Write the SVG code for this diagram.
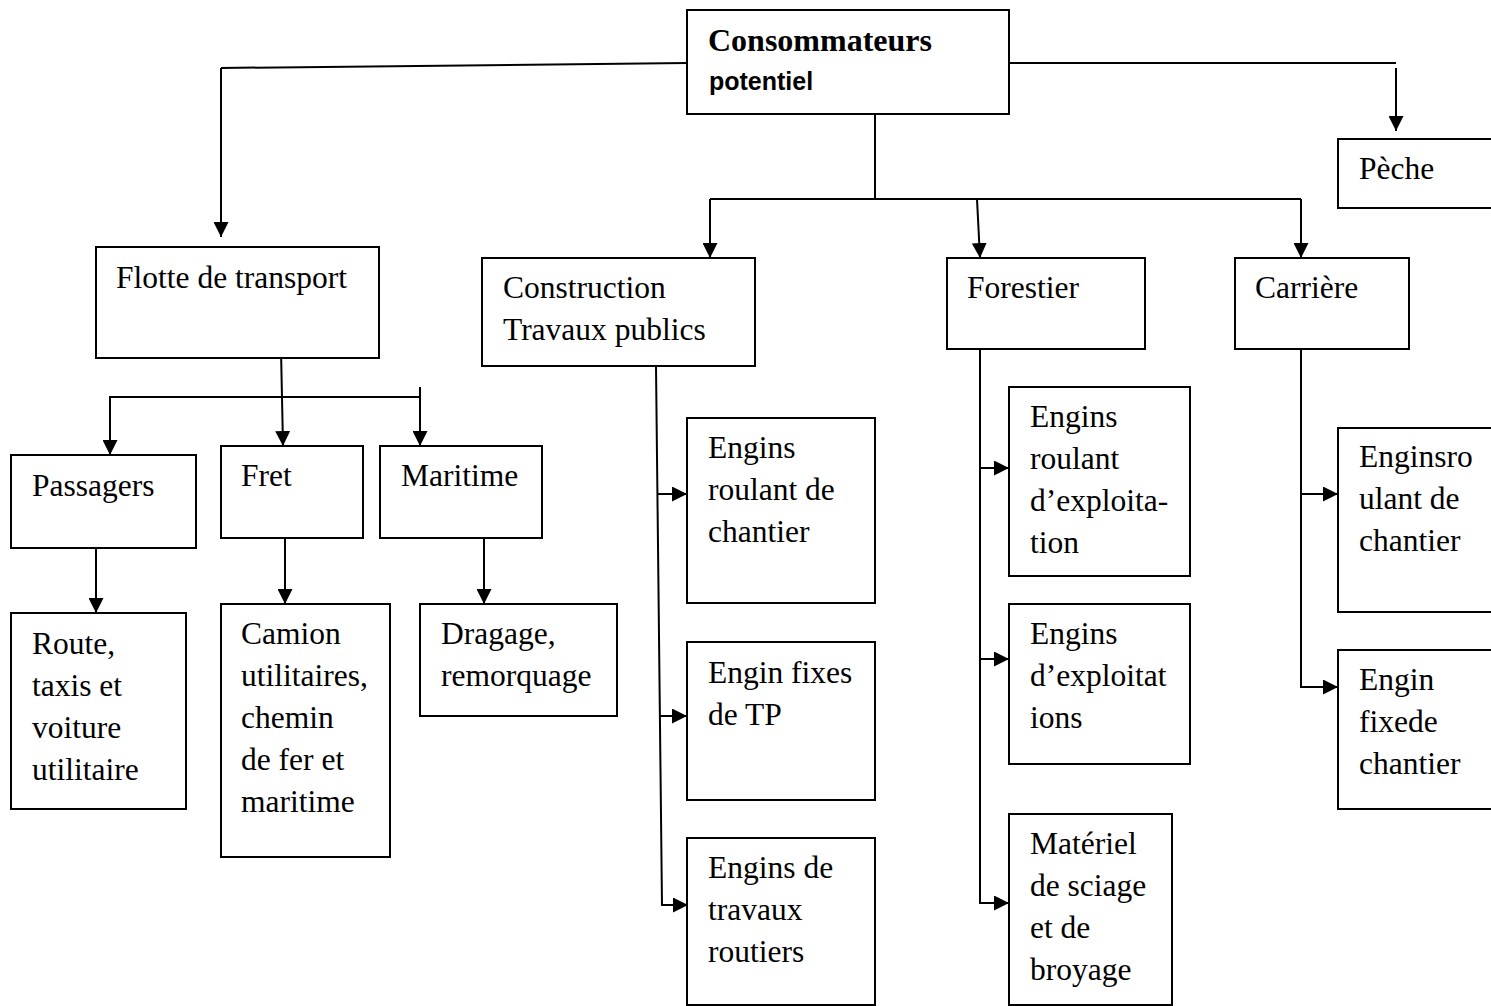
<svg xmlns="http://www.w3.org/2000/svg" width="1491" height="1006" viewBox="0 0 1491 1006">
<style>
.box{fill:#fff;stroke:#000;stroke-width:2}
.t{font-family:"Liberation Serif","Times New Roman",serif;font-size:31.5px;fill:#000}
.tb{font-family:"Liberation Serif","Times New Roman",serif;font-size:32px;font-weight:bold;fill:#000}
.ts{font-family:"Liberation Sans",Arial,sans-serif;font-size:25px;font-weight:bold;fill:#000}
.c{fill:none;stroke:#000;stroke-width:2}
.a{marker-end:url(#ah)}
</style>
<defs>
<marker id="ah" markerUnits="userSpaceOnUse" markerWidth="15" markerHeight="15" refX="15" refY="7.5" orient="auto" viewBox="0 0 15 15">
<path d="M0,0 L15,7.5 L0,15 z" fill="#000"/>
</marker>
</defs>
<rect width="1491" height="1006" fill="#fff"/>
<g id="connectors">
<polyline class="c" points="687,63 221,68"/>
<line class="c a" x1="221" y1="68" x2="221" y2="237"/>
<polyline class="c" points="1009,63 1396,63"/>
<line class="c a" x1="1396" y1="68" x2="1396" y2="131"/>
<polyline class="c" points="875,114 875,199"/>
<polyline class="c" points="710,199 1301,199"/>
<line class="c a" x1="710" y1="199" x2="710" y2="258"/>
<line class="c a" x1="977" y1="199" x2="980" y2="258"/>
<line class="c a" x1="1301" y1="199" x2="1301" y2="258"/>
<line class="c a" x1="281" y1="350" x2="283" y2="446"/>
<polyline class="c" points="110,453 110,397 420,397"/>
<line class="c a" x1="110" y1="440" x2="110" y2="455"/>
<line class="c a" x1="420" y1="387" x2="420" y2="446"/>
<line class="c a" x1="96" y1="548" x2="96" y2="613"/>
<line class="c a" x1="285" y1="538" x2="285" y2="604"/>
<line class="c a" x1="484" y1="538" x2="484" y2="604"/>
<polyline class="c" points="656,366 662,905 670,905"/>
<line class="c a" x1="657" y1="494" x2="687" y2="494"/>
<line class="c a" x1="660" y1="716" x2="687" y2="716"/>
<line class="c a" x1="662" y1="905" x2="688" y2="905"/>
<polyline class="c" points="980,349 980,903 990,903"/>
<line class="c a" x1="980" y1="468" x2="1009" y2="468"/>
<line class="c a" x1="980" y1="659" x2="1009" y2="659"/>
<line class="c a" x1="980" y1="903" x2="1009" y2="903"/>
<polyline class="c" points="1301,349 1301,687 1310,687"/>
<line class="c a" x1="1301" y1="494" x2="1338" y2="494"/>
<line class="c a" x1="1301" y1="687" x2="1338" y2="687"/>
</g>
<g id="consommateurs">
<rect class="box" x="687" y="10" width="322" height="104"/>
<text class="tb" x="708" y="51">Consommateurs</text>
<text class="ts" x="709" y="90">potentiel</text>
</g>
<g id="peche">
<rect class="box" x="1338" y="139" width="170" height="69"/>
<text class="t" x="1359" y="179">Pèche</text>
</g>
<g id="flotte">
<rect class="box" x="96" y="247" width="283" height="111"/>
<text class="t" x="116" y="288">Flotte de transport</text>
</g>
<g id="construction">
<rect class="box" x="482" y="258" width="273" height="108"/>
<text class="t" x="503" y="298">Construction</text>
<text class="t" x="503" y="340">Travaux publics</text>
</g>
<g id="forestier">
<rect class="box" x="947" y="258" width="198" height="91"/>
<text class="t" x="967" y="298">Forestier</text>
</g>
<g id="carriere">
<rect class="box" x="1235" y="258" width="174" height="91"/>
<text class="t" x="1255" y="298">Carrière</text>
</g>
<g id="passagers">
<rect class="box" x="11" y="455" width="185" height="93"/>
<text class="t" x="32" y="496">Passagers</text>
</g>
<g id="fret">
<rect class="box" x="221" y="446" width="142" height="92"/>
<text class="t" x="241" y="486">Fret</text>
</g>
<g id="maritime">
<rect class="box" x="380" y="446" width="162" height="92"/>
<text class="t" x="401" y="486">Maritime</text>
</g>
<g id="route">
<rect class="box" x="11" y="613" width="175" height="196"/>
<text class="t" x="32" y="654">Route,</text>
<text class="t" x="32" y="696">taxis et</text>
<text class="t" x="32" y="738">voiture</text>
<text class="t" x="32" y="780">utilitaire</text>
</g>
<g id="camion">
<rect class="box" x="221" y="604" width="169" height="253"/>
<text class="t" x="241" y="644">Camion</text>
<text class="t" x="241" y="686">utilitaires,</text>
<text class="t" x="241" y="728">chemin</text>
<text class="t" x="241" y="770">de fer et</text>
<text class="t" x="241" y="812">maritime</text>
</g>
<g id="dragage">
<rect class="box" x="420" y="604" width="197" height="112"/>
<text class="t" x="441" y="644">Dragage,</text>
<text class="t" x="441" y="686">remorquage</text>
</g>
<g id="engins-roulant-chantier">
<rect class="box" x="687" y="418" width="188" height="185"/>
<text class="t" x="708" y="458">Engins</text>
<text class="t" x="708" y="500">roulant de</text>
<text class="t" x="708" y="542">chantier</text>
</g>
<g id="engin-fixes-tp">
<rect class="box" x="687" y="642" width="188" height="158"/>
<text class="t" x="708" y="683">Engin fixes</text>
<text class="t" x="708" y="725">de TP</text>
</g>
<g id="engins-travaux-routiers">
<rect class="box" x="687" y="838" width="188" height="167"/>
<text class="t" x="708" y="878">Engins de</text>
<text class="t" x="708" y="920">travaux</text>
<text class="t" x="708" y="962">routiers</text>
</g>
<g id="engins-roulant-exploitation">
<rect class="box" x="1009" y="387" width="181" height="189"/>
<text class="t" x="1030" y="427">Engins</text>
<text class="t" x="1030" y="469">roulant</text>
<text class="t" x="1030" y="511">d’exploita-</text>
<text class="t" x="1030" y="553">tion</text>
</g>
<g id="engins-exploitations">
<rect class="box" x="1009" y="604" width="181" height="160"/>
<text class="t" x="1030" y="644">Engins</text>
<text class="t" x="1030" y="686">d’exploitat</text>
<text class="t" x="1030" y="728">ions</text>
</g>
<g id="materiel-sciage">
<rect class="box" x="1009" y="814" width="163" height="191"/>
<text class="t" x="1030" y="854">Matériel</text>
<text class="t" x="1030" y="896">de sciage</text>
<text class="t" x="1030" y="938">et de</text>
<text class="t" x="1030" y="980">broyage</text>
</g>
<g id="enginsroulant-chantier">
<rect class="box" x="1338" y="428" width="170" height="184"/>
<text class="t" x="1359" y="467">Enginsro</text>
<text class="t" x="1359" y="509">ulant de</text>
<text class="t" x="1359" y="551">chantier</text>
</g>
<g id="engin-fixe-chantier">
<rect class="box" x="1338" y="650" width="170" height="159"/>
<text class="t" x="1359" y="690">Engin</text>
<text class="t" x="1359" y="732">fixede</text>
<text class="t" x="1359" y="774">chantier</text>
</g>
</svg>
